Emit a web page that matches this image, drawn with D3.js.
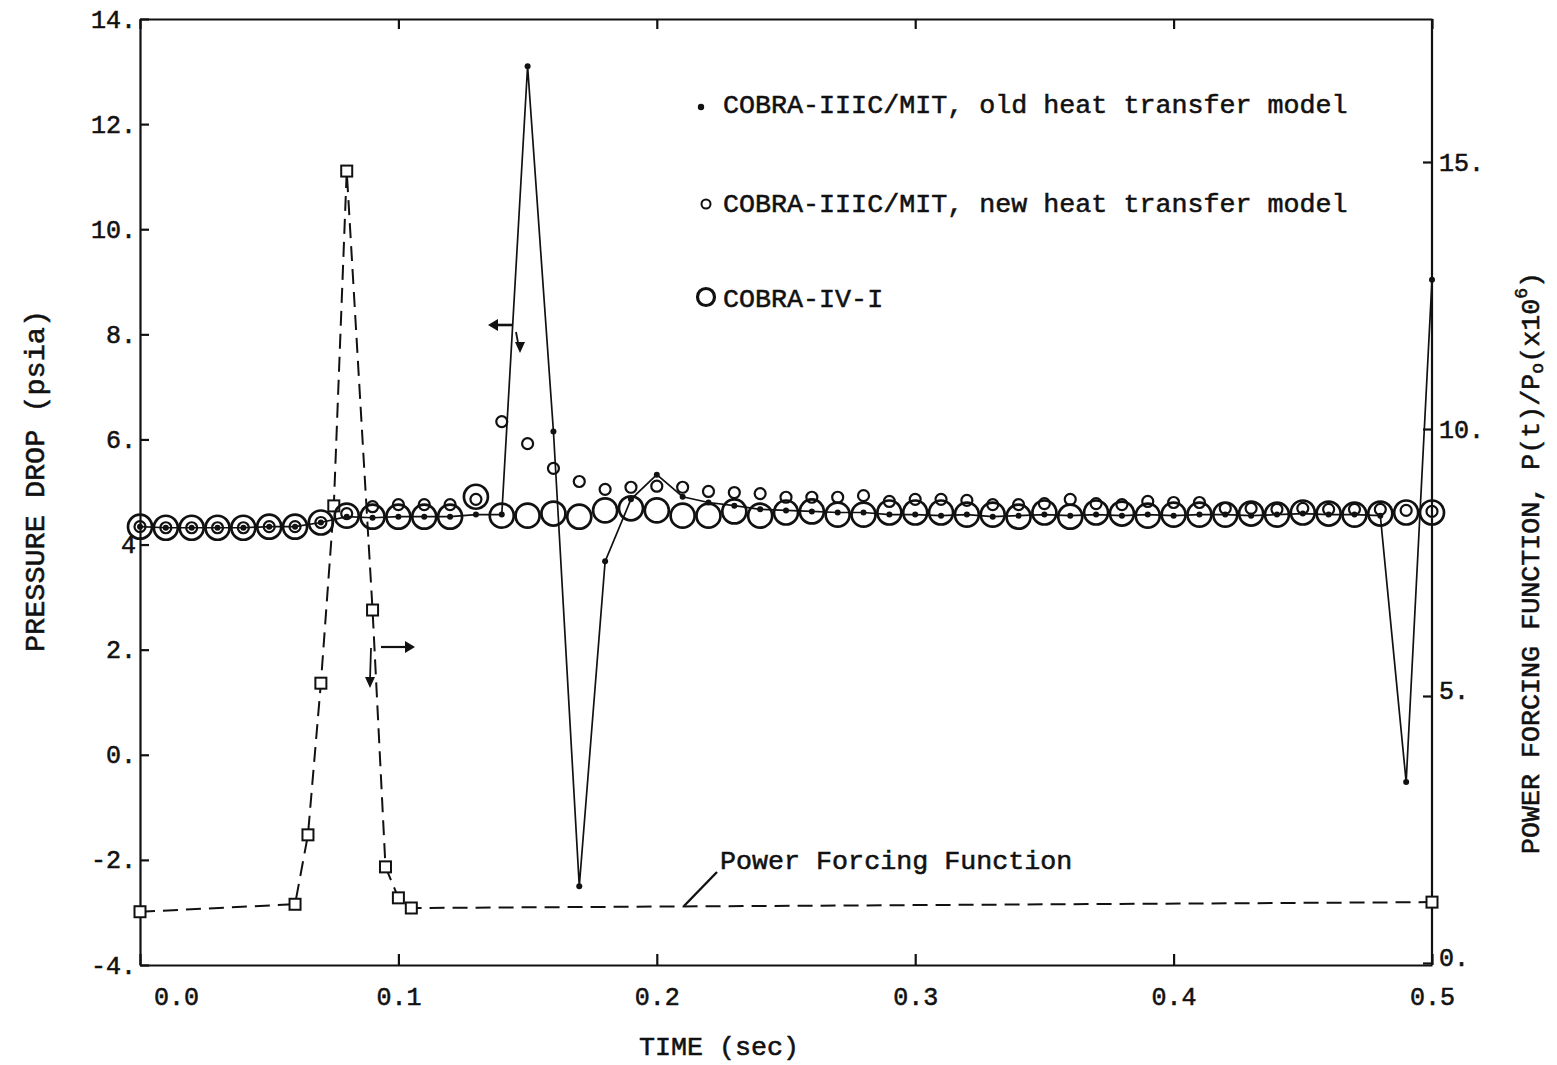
<!DOCTYPE html>
<html>
<head>
<meta charset="utf-8">
<script src="https://cdn.jsdelivr.net/npm/d3@7/dist/d3.min.js"></script>
<style>
  html, body { margin: 0; padding: 0; background: #ffffff; }
  svg { display: block; }
  text { font-family: "Liberation Mono", "DejaVu Sans Mono", monospace; fill: #111; stroke: #111; stroke-width: 0.55px; }
</style>
</head>
<body>
<svg id="chart" width="1557" height="1065"></svg>
<script>
// ---------------- DATA ----------------
const times = [0.00,0.01,0.02,0.03,0.04,0.05,0.06,0.07,0.08,0.09,
               0.10,0.11,0.12,0.13,0.14,0.15,0.16,0.17,0.18,0.19,
               0.20,0.21,0.22,0.23,0.24,0.25,0.26,0.27,0.28,0.29,
               0.30,0.31,0.32,0.33,0.34,0.35,0.36,0.37,0.38,0.39,
               0.40,0.41,0.42,0.43,0.44,0.45,0.46,0.47,0.48,0.49,0.50];

// COBRA-IIIC/MIT, old heat transfer model (filled dots, psia)
const oldModel = [4.34,4.32,4.32,4.32,4.32,4.34,4.34,4.42,4.53,4.51,
                  4.53,4.53,4.53,4.57,4.57,13.10,6.15,-2.50,3.68,4.86,
                  5.33,4.91,4.80,4.74,4.67,4.65,4.63,4.61,4.61,4.57,
                  4.57,4.55,4.57,4.53,4.55,4.57,4.55,4.57,4.55,4.57,
                  4.55,4.57,4.57,4.55,4.57,4.59,4.57,4.57,4.55,-0.52,9.04];

// COBRA-IIIC/MIT, new heat transfer model (small open circles, psia)
const newModel = [4.34,4.32,4.32,4.32,4.32,4.34,4.34,4.42,4.59,4.72,
                  4.76,4.76,4.76,4.86,6.34,5.92,5.45,5.20,5.05,5.09,
                  5.11,5.09,5.01,4.99,4.97,4.90,4.90,4.90,4.93,4.82,
                  4.86,4.86,4.84,4.76,4.76,4.78,4.86,4.78,4.76,4.82,
                  4.80,4.80,4.69,4.69,4.67,4.69,4.67,4.67,4.67,4.65,4.63];

// COBRA-IV-I (large open circles, psia)
const cobra4 = [4.34,4.32,4.32,4.32,4.32,4.34,4.34,4.42,4.55,4.53,
                4.53,4.53,4.53,4.91,4.55,4.55,4.59,4.53,4.65,4.69,
                4.65,4.55,4.55,4.63,4.55,4.61,4.63,4.57,4.57,4.61,
                4.61,4.61,4.57,4.57,4.53,4.61,4.53,4.61,4.59,4.55,
                4.57,4.57,4.57,4.59,4.57,4.61,4.59,4.57,4.59,4.61,4.61];

// Power forcing function P(t)/Po (x10^6), right axis
const powerTime  = [0.000,0.060,0.065,0.070,0.075,0.080,0.090,0.095,0.100,0.105,0.500];
const powerValue = [0.96, 1.10, 2.40, 5.24, 8.56, 14.83,6.61, 1.80, 1.22, 1.03, 1.14];

// Tick values / labels
const xTicks = [0.0,0.1,0.2,0.3,0.4,0.5];
const xTickLabels = ["0.0","0.1","0.2","0.3","0.4","0.5"];
const yTicks = [-4,-2,0,2,4,6,8,10,12,14];
const yTickLabels = ["-4.","-2.","0.","2.","4","6.","8.","10.","12.","14."];
const yRTicks = [0,5,10,15];
const yRTickLabels = ["0.","5.","10.","15."];

const legendLabels = ["COBRA-IIIC/MIT, old heat transfer model",
                      "COBRA-IIIC/MIT, new heat transfer model",
                      "COBRA-IV-I"];

// ---------------- CHART ----------------
const svg = d3.select("#chart");
const ink = "#111";

const x  = d3.scaleLinear().domain([0, 0.5]).range([140, 1432]);
const y  = d3.scaleLinear().domain([-4, 14]).range([965, 19]);
const yR = d3.scaleLinear().domain([0, 15]).range([963, 162]);

const fontTick = 25;

// frame + axes
const gL = svg.append("g").attr("transform", `translate(${x(0)},0)`)
  .call(d3.axisLeft(y).tickValues(yTicks).tickSize(-9).tickSizeOuter(0).tickPadding(4)
        .tickFormat((d,i) => yTickLabels[i]));
const gB = svg.append("g").attr("transform", `translate(0,${y(-4)})`)
  .call(d3.axisBottom(x).tickValues(xTicks).tickSize(-11).tickSizeOuter(0).tickPadding(22)
        .tickFormat((d,i) => xTickLabels[i]));
const gT = svg.append("g").attr("transform", `translate(0,${y(14)})`)
  .call(d3.axisTop(x).tickValues(xTicks).tickSize(-10).tickSizeOuter(0).tickFormat(""));
const gR = svg.append("g").attr("transform", `translate(${x(0.5)},0)`)
  .call(d3.axisRight(yR).tickValues(yRTicks).tickSize(-9).tickSizeOuter(0).tickPadding(7)
        .tickFormat((d,i) => yRTickLabels[i]));
gR.select(".domain").attr("d", `M0,${y(14)}V${y(-4)}`);

[gL, gB, gT, gR].forEach(g => {
  g.select(".domain").attr("stroke", ink).attr("stroke-width", 2.2);
  g.selectAll(".tick line").attr("stroke", ink).attr("stroke-width", 2.2);
  g.selectAll(".tick text").attr("font-size", fontTick)
    .style("font-family", '"Liberation Mono", "DejaVu Sans Mono", monospace');
});
gB.selectAll(".tick").filter(d => d === 0).select("text").attr("dx", 36);
gR.selectAll(".tick").filter(d => d === 0).select("text").attr("dy", "0.1em");
gR.selectAll(".tick").filter(d => d === 5).select("text").attr("dy", "0.1em");

// Power forcing function: dashed line + squares
const powerData = powerTime.map((t, i) => ({t, v: powerValue[i]}));
svg.append("path").datum(powerData)
  .attr("fill", "none").attr("stroke", ink).attr("stroke-width", 2)
  .attr("stroke-dasharray", "15,8")
  .attr("d", d3.line().x(d => x(d.t)).y(d => yR(d.v)));
svg.selectAll("rect.pw").data(powerData).join("rect").attr("class", "pw")
  .attr("x", d => x(d.t) - 5.5).attr("y", d => yR(d.v) - 5.5)
  .attr("width", 11).attr("height", 11)
  .attr("fill", "#fff").attr("stroke", ink).attr("stroke-width", 2);

// Old model line
const oldData = times.map((t, i) => ({t, v: oldModel[i]}));
svg.append("path").datum(oldData)
  .attr("fill", "none").attr("stroke", ink).attr("stroke-width", 1.7)
  .attr("d", d3.line().x(d => x(d.t)).y(d => y(d.v)));

// COBRA-IV-I big circles
const c4Data = times.map((t, i) => ({t, v: cobra4[i]}));
svg.selectAll("circle.c4").data(c4Data).join("circle").attr("class", "c4")
  .attr("cx", d => x(d.t)).attr("cy", d => y(d.v)).attr("r", 12)
  .attr("fill", "none").attr("stroke", ink).attr("stroke-width", 2.7);

// New model small circles
const newData = times.map((t, i) => ({t, v: newModel[i]}));
svg.selectAll("circle.nm").data(newData).join("circle").attr("class", "nm")
  .attr("cx", d => x(d.t)).attr("cy", d => y(d.v)).attr("r", 5.5)
  .attr("fill", "none").attr("stroke", ink).attr("stroke-width", 2.2);

// Old model dots
svg.selectAll("circle.om").data(oldData).join("circle").attr("class", "om")
  .attr("cx", d => x(d.t)).attr("cy", d => y(d.v)).attr("r", 3)
  .attr("fill", ink);

// Legend
const legX = 723;
const legY = [113, 212, 307];
svg.append("circle").attr("cx", legX - 22).attr("cy", legY[0] - 6).attr("r", 3.2).attr("fill", ink);
svg.append("circle").attr("cx", legX - 17).attr("cy", legY[1] - 8).attr("r", 4.5)
  .attr("fill", "none").attr("stroke", ink).attr("stroke-width", 2);
svg.append("circle").attr("cx", legX - 17).attr("cy", legY[2] - 10).attr("r", 8.5)
  .attr("fill", "none").attr("stroke", ink).attr("stroke-width", 3.2);
legendLabels.forEach((lab, i) => {
  svg.append("text").attr("x", legX).attr("y", legY[i])
    .attr("font-size", 26.7).text(lab);
});

// Annotation: Power Forcing Function with leader
svg.append("text").attr("x", 720).attr("y", 869).attr("font-size", 26.7).text("Power Forcing Function");
svg.append("path").attr("d", "M717,872 L684,906").attr("stroke", ink).attr("stroke-width", 2.4).attr("fill", "none");

// Arrows
const arrowHead = (px, py, dir) => {
  const s = 7;
  let d;
  if (dir === "left")  d = `M${px},${py} L${px+s+3},${py-s+1} L${px+s+3},${py+s-1} Z`;
  if (dir === "right") d = `M${px},${py} L${px-s-3},${py-s+1} L${px-s-3},${py+s-1} Z`;
  if (dir === "down")  d = `M${px},${py} L${px-s+2},${py-s-4} L${px+s-2},${py-s-4} Z`;
  svg.append("path").attr("d", d).attr("fill", ink);
};
// left-pointing arrow near pressure spike
svg.append("path").attr("d", "M512,325 H494").attr("stroke", ink).attr("stroke-width", 2.6);
arrowHead(488, 325, "left");
svg.append("path").attr("d", "M516,332 L519,348").attr("stroke", ink).attr("stroke-width", 1.8);
arrowHead(520, 353, "down");
// right-pointing arrow near power peak
svg.append("path").attr("d", "M381,647 H408").attr("stroke", ink).attr("stroke-width", 2.2);
arrowHead(415, 647, "right");
svg.append("path").attr("d", "M371,648 L370,680").attr("stroke", ink).attr("stroke-width", 1.8);
arrowHead(370, 688, "down");

// Axis titles
svg.append("text").attr("x", 719).attr("y", 1055).attr("text-anchor", "middle")
  .attr("font-size", 26.7).text("TIME (sec)");
svg.append("text").attr("transform", "translate(44,481) rotate(-90)")
  .attr("text-anchor", "middle").attr("font-size", 28.5).text("PRESSURE DROP (psia)");

const rt = svg.append("text").attr("transform", "translate(1539,563) rotate(-90)")
  .attr("text-anchor", "middle").attr("font-size", 26.7);
rt.append("tspan").text("POWER FORCING FUNCTION, P(t)/P");
rt.append("tspan").attr("font-size", 18).attr("dy", 4).text("o");
rt.append("tspan").attr("dy", -4).text("(x10");
rt.append("tspan").attr("font-size", 18).attr("dy", -12).text("6");
rt.append("tspan").attr("dy", 12).text(")");
</script>
</body>
</html>
